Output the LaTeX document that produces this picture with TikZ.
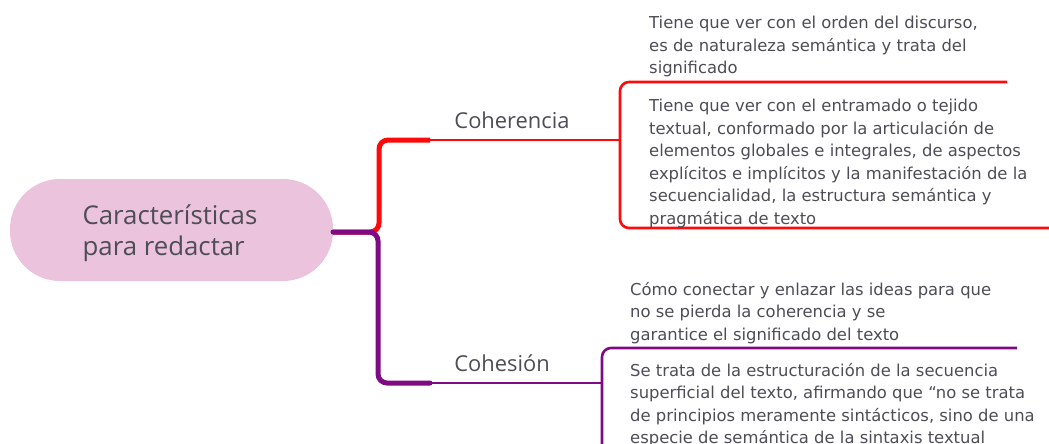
\documentclass[tikz,border=0pt]{standalone}
\usepackage{fontspec}
\setmainfont{DejaVu Sans}
\newfontfamily\titlefont{Open Sans}
\definecolor{txt}{HTML}{4D4D55}
\definecolor{pinkfill}{HTML}{EBC3DC}
\definecolor{redl}{HTML}{FF0A0A}
\definecolor{purl}{HTML}{7E0A84}
\begin{document}
\begin{tikzpicture}[x=1pt,y=-1pt,
  central/.style={fill=pinkfill, draw=none, rounded corners=50pt, minimum width=323pt, minimum height=102pt, inner sep=0pt},
  centraltext/.style={text=txt, font=\titlefont\fontsize{25.8}{31}\selectfont, align=left, inner sep=0pt},
  label/.style={text=txt, font=\titlefont\fontsize{21.9}{26}\selectfont, inner sep=0pt},
  body/.style={text=txt, font=\fontsize{16.4}{22.5}\selectfont, align=left, inner sep=0pt, anchor=north west},
  trunk/.style={line width=5pt, rounded corners=9pt},
  limb/.style={line width=2.6pt, rounded corners=9pt}]
\useasboundingbox (0,0) rectangle (1049,444);
\node[central] (c) at (171.5,230) {};
\node[centraltext] (ct) at (170,233) {Características\\para redactar};
% coordinates
\coordinate (j) at (333,232);
\coordinate (rj) at (379,140);
\coordinate (pj) at (378,383);
\coordinate (rb) at (620,140);
\coordinate (pb) at (602,383);
% labels
\node[label] (coh) at (512,120) {Coherencia};
\node[label] (ces) at (502,363) {Cohesión};
% red branch
\draw[redl, trunk] (j) -- (rj |- j) -- (rj) -- (430,140);
\draw[redl, limb] (430,140) -- (rb);
\draw[redl, limb] (1007,82) -- (620,82) -- (620,228) -- (1049,228);
% purple branch
\draw[purl, trunk, line cap=round] (j) -- (pj |- j) -- (pj) -- (430,383);
\draw[purl, limb] (430,383) -- (pb);
\draw[purl, limb] (1017,348) -- (602,348) -- (602,450);
% texts
\node[body] (t1) at (649,16) {Tiene que ver con el orden del discurso,\\es de naturaleza semántica y trata del\\significado};
\node[body] (t2) at (649,99) {Tiene que ver con el entramado o tejido\\textual, conformado por la articulación de\\elementos globales e integrales, de aspectos\\explícitos e implícitos y la manifestación de la\\secuencialidad, la estructura semántica y\\pragmática de texto};
\node[body] (t3) at (630,282) {Cómo conectar y enlazar las ideas para que\\no se pierda la coherencia y se\\garantice el significado del texto};
\node[body] (t4) at (630,363) {Se trata de la estructuración de la secuencia\\superficial del texto, afirmando que “no se trata\\de principios meramente sintácticos, sino de una\\especie de semántica de la sintaxis textual};
\end{tikzpicture}
\end{document}
